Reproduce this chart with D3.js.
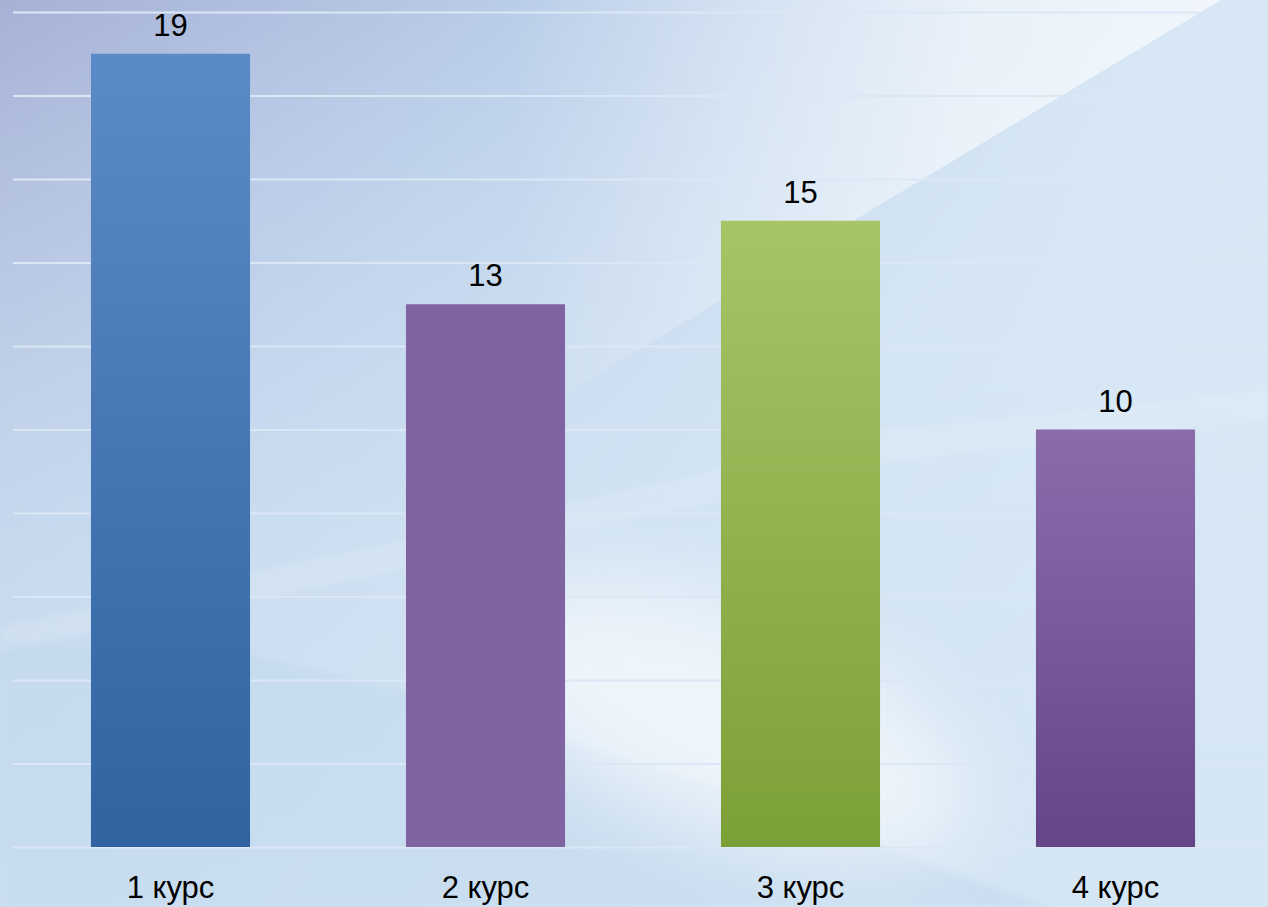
<!DOCTYPE html>
<html>
<head>
<meta charset="utf-8">
<script src="https://d3js.org/d3.v7.min.js"></script>
<style>
  html, body { margin: 0; padding: 0; overflow: hidden; }
</style>
</head>
<body>
<div id="chart"></div>
<script>
// data
const courses = ['1 курс', '2 курс', '3 курс', '4 курс'];
const counts = [19, 13, 15, 10];
const gridTicks = [0, 2, 4, 6, 8, 10, 12, 14, 16, 18, 20];
// bar colours: top / bottom of each gradient
const topColors = ['#5b8bc7', '#8064a2', '#a6c566', '#8b6cab'];
const bottomColors = ['#3163a1', '#8064a2', '#7ca038', '#644587'];

const width = 1268, height = 907;

const svg = d3.select('#chart').append('svg')
    .attr('width', width)
    .attr('height', height);

const defs = svg.append('defs');

defs.append('filter')
    .attr('id', 'soft')
    .attr('x', '-10%').attr('y', '-10%').attr('width', '120%').attr('height', '120%')
  .append('feGaussianBlur')
    .attr('stdDeviation', 3);

defs.append('filter')
    .attr('id', 'blur')
    .attr('x', '-30%').attr('y', '-30%').attr('width', '160%').attr('height', '160%')
  .append('feGaussianBlur')
    .attr('stdDeviation', 40);

// background
const bg = defs.append('linearGradient')
    .attr('id', 'bg')
    .attr('x1', 0).attr('y1', 0).attr('x2', 1).attr('y2', 0.55);
bg.append('stop').attr('offset', 0).attr('stop-color', '#a6b1d6');
bg.append('stop').attr('offset', 0.35).attr('stop-color', '#bcd0ea');
bg.append('stop').attr('offset', 0.7).attr('stop-color', '#d6e6f5');
bg.append('stop').attr('offset', 1).attr('stop-color', '#deebf7');

svg.append('rect')
    .attr('width', width)
    .attr('height', height)
    .attr('fill', 'url(#bg)');

const vfade = defs.append('linearGradient')
    .attr('id', 'vfade')
    .attr('x1', 0).attr('y1', 0).attr('x2', 0).attr('y2', 1);
vfade.append('stop').attr('offset', 0).attr('stop-color', '#d2e4f3').attr('stop-opacity', 0);
vfade.append('stop').attr('offset', 0.6).attr('stop-color', '#d2e4f3').attr('stop-opacity', 0.6);
vfade.append('stop').attr('offset', 1).attr('stop-color', '#d2e4f3').attr('stop-opacity', 0.8);

svg.append('rect')
    .attr('width', width)
    .attr('height', height)
    .attr('fill', 'url(#vfade)');

// light sheen above the diagonal in the upper right
const sheen = defs.append('linearGradient')
    .attr('id', 'sheen')
    .attr('x1', 0).attr('y1', 0).attr('x2', 1).attr('y2', 0);
sheen.append('stop').attr('offset', 0.42).attr('stop-color', '#ffffff').attr('stop-opacity', 0);
sheen.append('stop').attr('offset', 0.8).attr('stop-color', '#ffffff').attr('stop-opacity', 0.55);
sheen.append('stop').attr('offset', 1).attr('stop-color', '#ffffff').attr('stop-opacity', 0.62);

svg.append('path')
    .attr('d', 'M0,0 L1221,0 L0,733 Z')
    .attr('fill', 'url(#sheen)');

// bluer area lower left
svg.append('path')
    .attr('d', 'M0,640 L250,655 L404,690 L727,790 L1050,907 L0,907 Z')
    .attr('fill', '#c3d9ee')
    .attr('opacity', 0.55)
    .attr('filter', 'url(#soft)');

// bright swoosh near the middle bottom
svg.append('ellipse')
    .attr('cx', 720).attr('cy', 720)
    .attr('rx', 260).attr('ry', 110)
    .attr('transform', 'rotate(22,720,720)')
    .attr('fill', '#ffffff')
    .attr('opacity', 0.6)
    .attr('filter', 'url(#blur)');

// faint light edge rising from the left
svg.append('path')
    .attr('d', 'M0,627 L404,540 L900,430 L1268,390 L1268,420 L900,460 L404,570 L0,650 Z')
    .attr('fill', '#ffffff')
    .attr('opacity', 0.12)
    .attr('filter', 'url(#soft)');

// scales
const x = d3.scaleBand()
    .domain(courses)
    .range([13, 1273])
    .paddingInner(0.495)
    .paddingOuter(0.2475);

const y = d3.scaleLinear()
    .domain([0, 20])
    .range([847, 12]);

// gridlines
svg.append('g')
    .attr('transform', 'translate(13,0)')
    .call(d3.axisLeft(y).tickValues(gridTicks).tickSize(-(width - 13)).tickFormat(''))
    .call(g => g.select('.domain').remove())
    .call(g => g.selectAll('.tick line')
        .attr('stroke', '#dce7f5')
        .attr('stroke-width', 2));

// bar gradients
courses.forEach((c, i) => {
  const grad = defs.append('linearGradient')
      .attr('id', 'bar' + i)
      .attr('x1', 0).attr('y1', 0).attr('x2', 0).attr('y2', 1);
  grad.append('stop').attr('offset', 0).attr('stop-color', topColors[i]);
  grad.append('stop').attr('offset', 1).attr('stop-color', bottomColors[i]);
});

// bars
svg.selectAll('.bar')
    .data(courses)
    .enter()
    .append('rect')
      .attr('class', 'bar')
      .attr('x', d => x(d))
      .attr('y', (d, i) => y(counts[i]))
      .attr('width', x.bandwidth())
      .attr('height', (d, i) => y(0) - y(counts[i]))
      .attr('fill', (d, i) => 'url(#bar' + i + ')');

// value labels
svg.selectAll('.value')
    .data(courses)
    .enter()
    .append('text')
      .attr('class', 'value')
      .attr('x', d => x(d) + x.bandwidth() / 2)
      .attr('y', (d, i) => y(counts[i]) - 18)
      .attr('text-anchor', 'middle')
      .attr('font-family', '"Liberation Sans", Arial, sans-serif')
      .attr('font-size', '31px')
      .attr('fill', '#000')
      .text((d, i) => counts[i]);

// category labels
svg.append('g')
    .attr('transform', `translate(0,${y(0)})`)
    .call(d3.axisBottom(x).tickSize(0).tickPadding(0))
    .call(g => g.select('.domain').remove())
    .call(g => g.selectAll('text')
        .attr('dy', 0)
        .attr('y', 51)
        .attr('font-family', '"Liberation Sans", Arial, sans-serif')
        .attr('font-size', '31px')
        .attr('fill', '#000'));
</script>
</body>
</html>
